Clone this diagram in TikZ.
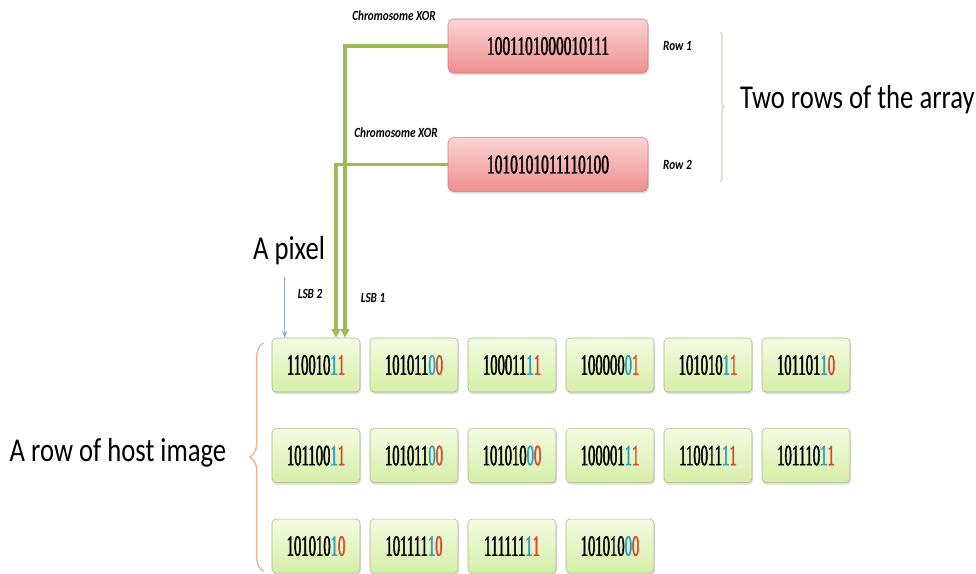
\documentclass[tikz,border=0pt]{standalone}
\usepackage{fontspec}
\setmainfont{Carlito}[FakeStretch=0.8]
\newfontfamily\arrdigits{Liberation Serif}[FakeStretch=0.58,FakeBold=1.4]
\newfontfamily\pxdigits{Liberation Serif}[FakeStretch=0.5,FakeBold=1.4]
\usepackage{xcolor}
\usetikzlibrary{arrows.meta,positioning,calc,shadows,decorations.pathreplacing}

\definecolor{chromtop}{HTML}{FBD4D4}
\definecolor{chrombot}{HTML}{EF8E8E}
\definecolor{chromborder}{HTML}{D47A78}
\definecolor{pixtop}{HTML}{F4FBE2}
\definecolor{pixbot}{HTML}{D6EEA6}
\definecolor{pixborder}{HTML}{A4B88A}
\definecolor{xorgreen}{HTML}{9BBB59}
\definecolor{pixblue}{HTML}{8FA9D8}
\definecolor{braceorange}{HTML}{F2B28A}
\definecolor{bracetan}{HTML}{E6CFC0}
\definecolor{lsbtwo}{HTML}{2E9FBF}
\definecolor{lsbone}{HTML}{E2412A}

% last two bits of a pixel: LSB 2 then LSB 1
\newcommand\lsbits[3]{#1\textcolor{lsbtwo}{#2}\textcolor{lsbone}{#3}}

\begin{document}
\begin{tikzpicture}[
    x=0.75pt, y=-0.75pt,
    node distance=27pt and 7.1pt,
    arraybox/.style={rounded corners=4pt, draw=chromborder, top color=chromtop, bottom color=chrombot, minimum width=150pt, minimum height=40.5pt, font=\arrdigits\fontsize{20}{24}\selectfont, drop shadow={shadow xshift=0.6pt, shadow yshift=-1.6pt, opacity=0.25}},
    pixel/.style={rounded corners=3pt, draw=pixborder, top color=pixtop, bottom color=pixbot, minimum width=66pt, minimum height=40.5pt, inner sep=1pt, font=\pxdigits\fontsize{22}{26}\selectfont, drop shadow={shadow xshift=0.6pt, shadow yshift=-1.6pt, opacity=0.25}},
    note/.style={font=\fontsize{10.5}{12}\selectfont\bfseries\itshape, inner sep=1pt},
    caption/.style={font=\fontsize{25}{30}\selectfont, inner sep=0pt},
    xorline/.style={draw=xorgreen, line width=2.3pt, -{Triangle[width=6.5pt,length=6.5pt,fill=xorgreen!75]}},
    pixarrow/.style={draw=pixblue, line width=0.8pt, -{Stealth[length=5pt,width=4pt]}},
    hostbrace/.style={draw=braceorange, line width=1pt, decorate, decoration={brace, amplitude=10.5pt}},
    rowsbrace/.style={draw=bracetan, line width=1pt, decorate, decoration={brace, amplitude=3pt}}
]
\fill[white] (0,0) rectangle (976,574);
\useasboundingbox (0,0) rectangle (976,574);

% the two chromosome rows
\node[arraybox] (arr1) at (548,46) {1001101000010111};
\node[arraybox, below=48pt of arr1] (arr2) {1010101011110100};
\node[note, right=10pt of arr1] (row1) {Row 1};
\node[note, right=10pt of arr2] (row2) {Row 2};
\node[note] (xor1) at (394,16) {Chromosome XOR};
\node[note] (xor2) at (396,133) {Chromosome XOR};

% pixels of the host image row
\node[pixel] (p11) at (316,365) {\lsbits{110010}{1}{1}};
\node[pixel, right=of p11] (p12) {\lsbits{101011}{0}{0}};
\node[pixel, right=of p12] (p13) {\lsbits{100011}{1}{1}};
\node[pixel, right=of p13] (p14) {\lsbits{100000}{0}{1}};
\node[pixel, right=of p14] (p15) {\lsbits{101010}{1}{1}};
\node[pixel, right=of p15] (p16) {\lsbits{101101}{1}{0}};

\node[pixel, below=of p11] (p21) {\lsbits{101100}{1}{1}};
\node[pixel, right=of p21] (p22) {\lsbits{101011}{0}{0}};
\node[pixel, right=of p22] (p23) {\lsbits{101010}{0}{0}};
\node[pixel, right=of p23] (p24) {\lsbits{100001}{1}{1}};
\node[pixel, right=of p24] (p25) {\lsbits{110011}{1}{1}};
\node[pixel, right=of p25] (p26) {\lsbits{101110}{1}{1}};

\node[pixel, below=of p21] (p31) {\lsbits{101010}{1}{0}};
\node[pixel, right=of p31] (p32) {\lsbits{101111}{1}{0}};
\node[pixel, right=of p32] (p33) {\lsbits{111111}{1}{1}};
\node[pixel, right=of p33] (p34) {\lsbits{101010}{0}{0}};

% labels
\node[caption] (pixlbl) at (289,251) {A pixel};
\node[note] (lsb2) at (310,294) {LSB 2};
\node[note] (lsb1) at (373,298) {LSB 1};
\node[caption] (hostlbl) at (118,453) {A row of host image};
\node[caption, anchor=east] (rowslbl) at (975,100) {Two rows of the array};

% XOR paths into the last two bits
\draw[xorline] (arr1.west) -| ($(p11.north)+(29,0)$);
\draw[xorline] (arr2.west) -| ($(p11.north)+(20,0)$);

\coordinate (pxtop) at ($(p11.north west)+(13,-61)$);
\draw[pixarrow] (pxtop) -- (pxtop |- p11.north);

% braces
\draw[hostbrace] ($(p31.south west)+(-8,-2)$) -- ($(p11.north west)+(-8,5)$);
\draw[rowsbrace] (720,32) -- (720,182);

\end{tikzpicture}
\end{document}
